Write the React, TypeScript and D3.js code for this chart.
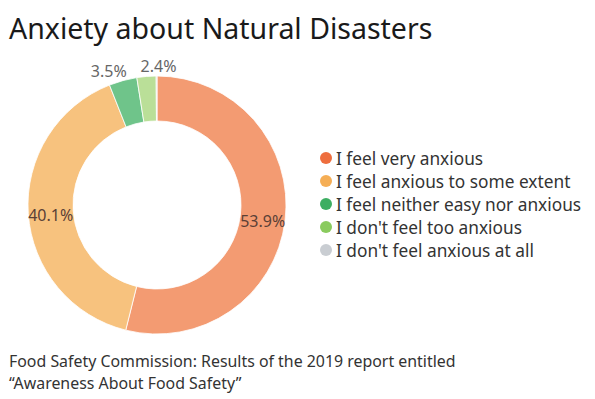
import React from "react";
import * as d3 from "d3";

const categories = [
  "I feel very anxious",
  "I feel anxious to some extent",
  "I feel neither easy nor anxious",
  "I don't feel too anxious",
  "I don't feel anxious at all",
];
const values = [53.9, 40.1, 3.5, 2.4, 0.1];
const labels = ["53.9%", "40.1%", "3.5%", "2.4%", ""];
const sliceColors = ["#F39B72", "#F7C27E", "#6FC48A", "#BADF98", "#D0D0D0"];
const dotColors = ["#EE6E3E", "#F5AE55", "#3DAE62", "#8ACB5E", "#C9CDD2"];
const title = "Anxiety about Natural Disasters";
const sourceLines = [
  "Food Safety Commission: Results of the 2019 report entitled",
  "\u201CAwareness About Food Safety\u201D",
];

export default function App() {
  const W = 595;
  const H = 399;
  const cx = 157;
  const cy = 205;
  const rOuter = 129;
  const rInner = 84;
  const font = "'Noto Sans', 'Open Sans', sans-serif";

  const pie = d3.pie<number>().sort(null).value((d) => d);
  const arcs = pie(values);
  const arc = d3.arc<d3.PieArcDatum<number>>().innerRadius(rInner).outerRadius(rOuter);
  const midArc = d3
    .arc<d3.PieArcDatum<number>>()
    .innerRadius((rInner + rOuter) / 2)
    .outerRadius((rInner + rOuter) / 2);
  const outArc = d3
    .arc<d3.PieArcDatum<number>>()
    .innerRadius(rOuter + 12)
    .outerRadius(rOuter + 12);
  const spread = [0, 0, -11, 13, 0];

  const legendY = d3.scalePoint<string>().domain(categories).range([158, 250]);

  return (
    <svg
      width={W}
      height={H}
      style={{ position: "absolute", left: 0, top: 0, background: "#fff" }}
    >
      <text x={9} y={39} fontFamily={font} fontSize={28.5} fill="#1a1a1a">
        {title}
      </text>
      <g transform={`translate(${cx},${cy})`}>
        {arcs.map((a, i) => (
          <path key={i} d={arc(a) || ""} fill={sliceColors[i]} stroke="#fff" strokeWidth={0.8} />
        ))}
        {arcs.map((a, i) => {
          if (!labels[i]) return null;
          const small = a.endAngle - a.startAngle < 0.5;
          const [x, y] = small ? outArc.centroid(a) : midArc.centroid(a);
          return (
            <text
              key={"l" + i}
              x={x + spread[i]}
              y={y + (small ? 2 : 3)}
              textAnchor="middle"
              dominantBaseline="central"
              fontFamily={font}
              fontSize={16}
              fill={small ? "#666" : "#5a4036"}
            >
              {labels[i]}
            </text>
          );
        })}
      </g>
      {categories.map((c, i) => {
        const y = legendY(c) as number;
        return (
          <g key={"lg" + i}>
            <circle cx={326} cy={y} r={6} fill={dotColors[i]} />
            <text
              x={336}
              y={y}
              dominantBaseline="central"
              fontFamily={font}
              fontSize={17.3}
              fill="#333"
            >
              {c}
            </text>
          </g>
        );
      })}
      {sourceLines.map((s, i) => (
        <text key={"s" + i} x={9} y={367 + i * 22} fontFamily={font} fontSize={15.9} fill="#333">
          {s}
        </text>
      ))}
    </svg>
  );
}
